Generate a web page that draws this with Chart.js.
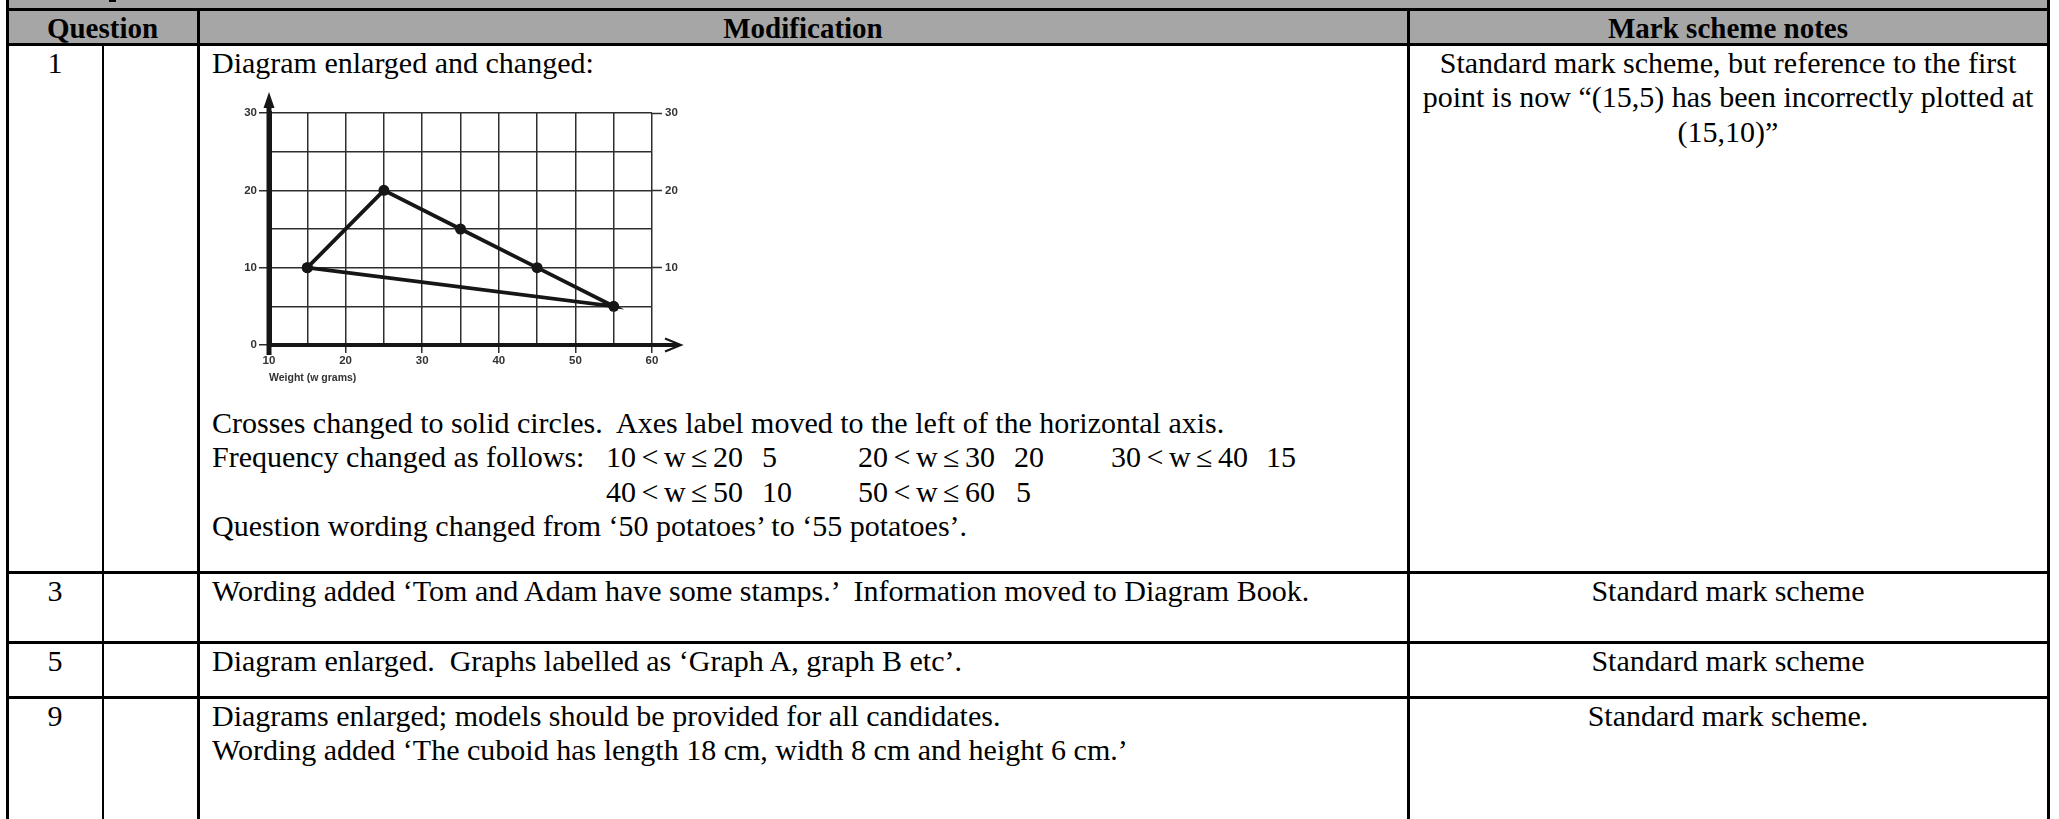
<!DOCTYPE html>
<html>
<head>
<meta charset="utf-8">
<script src="https://cdn.jsdelivr.net/npm/chart.js@4.4.0/dist/chart.umd.min.js"></script>
<style>
  html, body { margin: 0; padding: 0; background: #fff; }
  #page { position: relative; width: 2059px; height: 819px; overflow: hidden;
          font-family: "Liberation Serif", "Times New Roman", serif; color: #000; }
  .band { position: absolute; left: 7px; top: 0; width: 2041px; height: 44px; background: #a6a6a6; }
  .h { position: absolute; left: 6px; width: 2044px; height: 3px; background: #000; }
  .v { position: absolute; width: 3px; background: #000; }
  .t { position: absolute; font-size: 30px; line-height: 34.5px; white-space: pre; }
  .hd { font-weight: bold; font-size: 29px; text-align: center; }
  .c { text-align: center; }
  .rg { word-spacing: -2px; }
  #chartBox { position: absolute; left: 215px; top: 80px; width: 500px; height: 310px; }
</style>
</head>
<body>
<div id="page">
  <div class="band"></div>
  <div style="position:absolute;left:109px;top:0;width:7px;height:2px;background:#000"></div>

  <div class="h" style="top:8px"></div>
  <div class="h" style="top:43px"></div>
  <div class="h" style="top:571px"></div>
  <div class="h" style="top:641px"></div>
  <div class="h" style="top:696px"></div>

  <div class="v" style="left:6px;top:0;height:819px"></div>
  <div class="v" style="left:102px;top:44px;height:775px;width:2px"></div>
  <div class="v" style="left:197px;top:9px;height:810px"></div>
  <div class="v" style="left:1407px;top:9px;height:810px"></div>
  <div class="v" style="left:2047px;top:0;height:819px"></div>

  <div class="t hd" style="left:7px;width:191px;top:11px">Question</div>
  <div class="t hd" style="left:198px;width:1210px;top:11px">Modification</div>
  <div class="t hd" style="left:1408px;width:640px;top:11px">Mark scheme notes</div>

  <div class="t c" style="left:7px;width:96px;top:45.6px">1</div>
  <div class="t" style="left:212px;top:45.6px">Diagram enlarged and changed:</div>
  <div class="t c" style="left:1408px;width:640px;top:45.6px">Standard mark scheme, but reference to the first
point is now “(15,5) has been incorrectly plotted at
(15,10)”</div>

  <div class="t" style="left:212px;top:405.6px">Crosses changed to solid circles.  Axes label moved to the left of the horizontal axis.</div>
  <div class="t" style="left:212px;top:440px">Frequency changed as follows:</div>
  <div class="t rg" style="left:606px;top:440px">10 &lt; w ≤ 20</div>
  <div class="t" style="left:762px;top:440px">5</div>
  <div class="t rg" style="left:858px;top:440px">20 &lt; w ≤ 30</div>
  <div class="t" style="left:1014px;top:440px">20</div>
  <div class="t rg" style="left:1111px;top:440px">30 &lt; w ≤ 40</div>
  <div class="t" style="left:1266px;top:440px">15</div>
  <div class="t rg" style="left:606px;top:474.5px">40 &lt; w ≤ 50</div>
  <div class="t" style="left:762px;top:474.5px">10</div>
  <div class="t rg" style="left:858px;top:474.5px">50 &lt; w ≤ 60</div>
  <div class="t" style="left:1016px;top:474.5px">5</div>
  <div class="t" style="left:212px;top:509px">Question wording changed from ‘50 potatoes’ to ‘55 potatoes’.</div>

  <div class="t c" style="left:7px;width:96px;top:574px">3</div>
  <div class="t" style="left:212px;top:574px">Wording added ‘Tom and Adam have some stamps.’  Information moved to Diagram Book.</div>
  <div class="t c" style="left:1408px;width:640px;top:574px">Standard mark scheme</div>

  <div class="t c" style="left:7px;width:96px;top:643.6px">5</div>
  <div class="t" style="left:212px;top:643.6px">Diagram enlarged.  Graphs labelled as ‘Graph A, graph B etc’.</div>
  <div class="t c" style="left:1408px;width:640px;top:643.6px">Standard mark scheme</div>

  <div class="t c" style="left:7px;width:96px;top:698.6px">9</div>
  <div class="t" style="left:212px;top:698.6px">Diagrams enlarged; models should be provided for all candidates.
Wording added ‘The cuboid has length 18 cm, width 8 cm and height 6 cm.’</div>
  <div class="t c" style="left:1408px;width:640px;top:698.6px">Standard mark scheme.</div>

  <div id="chartBox"><canvas id="freqChart" width="500" height="310"></canvas></div>
</div>

<script>
// frequency polygon data (weight mid-points and frequencies as drawn)
const weights = [15, 25, 35, 45, 55];
const frequency = [10, 20, 15, 10, 5];
const xTickLabels = [10, 20, 30, 40, 50, 60];
const yTickLabels = [0, 10, 20, 30];
const xTitle = "Weight (w grams)";

const labelColor = "#333333";
const gridColor = "#2e2e2e";
const inkColor = "#161616";

// the drawn polygon goes back to its first point
const polygon = weights.map((w, i) => ({ x: w, y: frequency[i] }));
polygon.push({ x: weights[0], y: frequency[0] });

// arrows on the axes
const axisArrows = {
    id: "axisArrows",
    afterDraw(chart) {
        const { ctx, chartArea } = chart;
        const left = chartArea.left;
        const bottom = chartArea.bottom;
        ctx.save();
        ctx.strokeStyle = inkColor;
        ctx.fillStyle = inkColor;

        // vertical axis, extended both ways
        ctx.lineWidth = 5;
        ctx.beginPath();
        ctx.moveTo(left, bottom + 10);
        ctx.lineTo(left, chartArea.top - 8);
        ctx.stroke();
        ctx.beginPath();
        ctx.moveTo(left, chartArea.top - 21);
        ctx.lineTo(left - 5.5, chartArea.top - 5);
        ctx.lineTo(left + 5.5, chartArea.top - 5);
        ctx.closePath();
        ctx.fill();

        // horizontal axis, out to an open arrow
        const tip = chartArea.right + 29;
        ctx.lineWidth = 4;
        ctx.beginPath();
        ctx.moveTo(chartArea.right - 2, bottom);
        ctx.lineTo(tip - 2, bottom);
        ctx.stroke();
        ctx.lineWidth = 2;
        ctx.beginPath();
        ctx.moveTo(tip - 16, bottom - 6.5);
        ctx.lineTo(tip, bottom);
        ctx.lineTo(tip - 16, bottom + 6.5);
        ctx.stroke();
        ctx.restore();
    }
};

const tickFont = { family: "Arial, 'Liberation Sans', sans-serif", size: 11.5, weight: "bold" };

new Chart(document.getElementById("freqChart").getContext("2d"), {
    type: "line",
    data: {
        datasets: [{
            data: polygon,
            borderColor: inkColor,
            borderWidth: 3.8,
            pointRadius: 5.5,
            pointBackgroundColor: inkColor,
            pointBorderColor: inkColor,
            pointBorderWidth: 0,
            tension: 0,
            fill: false,
            clip: false
        }]
    },
    options: {
        responsive: false,
        animation: false,
        events: [],
        layout: { padding: { top: 33, left: 0, right: 0, bottom: 0 } },
        plugins: { legend: { display: false }, tooltip: { enabled: false } },
        scales: {
            x: {
                type: "linear",
                min: 10,
                max: 60,
                ticks: {
                    stepSize: 5,
                    autoSkip: false,
                    maxRotation: 0,
                    padding: 1,
                    color: labelColor,
                    font: tickFont,
                    callback: (v) => (xTickLabels.includes(v) ? String(v) : "")
                },
                grid: {
                    color: gridColor,
                    lineWidth: 1.5,
                    tickLength: 8,
                    tickWidth: 1.5,
                    tickColor: (c) => (c.tick && xTickLabels.includes(c.tick.value) ? gridColor : "rgba(0,0,0,0)")
                },
                border: { display: true, color: inkColor, width: 4 },
                title: {
                    display: true,
                    text: xTitle,
                    align: "start",
                    color: labelColor,
                    font: { family: "Arial, 'Liberation Sans', sans-serif", size: 10.5, weight: "bold" },
                    padding: { top: 0, bottom: 6 }
                },
                afterFit: (scale) => { scale.height = 45; }
            },
            y: {
                position: "left",
                min: 0,
                max: 30,
                ticks: {
                    stepSize: 5,
                    autoSkip: false,
                    padding: 2,
                    color: labelColor,
                    font: tickFont,
                    callback: (v) => (yTickLabels.includes(v) ? String(v) : "")
                },
                grid: {
                    color: gridColor,
                    lineWidth: 1.5,
                    tickLength: 10,
                    tickWidth: 1.5,
                    tickColor: (c) => (c.tick && yTickLabels.includes(c.tick.value) ? gridColor : "rgba(0,0,0,0)")
                },
                border: { display: true, color: inkColor, width: 5 },
                afterFit: (scale) => { scale.width = 54; }
            },
            y2: {
                position: "right",
                min: 0,
                max: 30,
                ticks: {
                    stepSize: 5,
                    autoSkip: false,
                    padding: 3,
                    color: labelColor,
                    font: tickFont,
                    callback: (v) => (v > 0 && yTickLabels.includes(v) ? String(v) : "")
                },
                grid: {
                    drawOnChartArea: false,
                    tickLength: 10,
                    tickWidth: 1.5,
                    tickColor: (c) => (c.tick && c.tick.value > 0 && yTickLabels.includes(c.tick.value) ? gridColor : "rgba(0,0,0,0)")
                },
                border: { display: false },
                afterFit: (scale) => { scale.width = 63; }
            }
        }
    },
    plugins: [axisArrows]
});
</script>
</body>
</html>
